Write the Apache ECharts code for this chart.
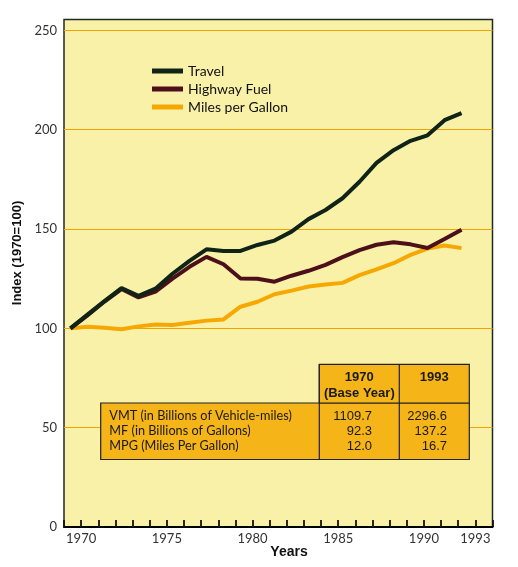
<!DOCTYPE html>
<html>
<head>
<meta charset="utf-8">
<script src="https://cdn.jsdelivr.net/npm/echarts@6/dist/echarts.min.js"></script>
<style>
  html, body { margin: 0; padding: 0; background: #fff; }
  #chart { width: 518px; height: 567px; }
</style>
</head>
<body>
<div id="chart"></div>
<script>
var years = [1970, 1971, 1972, 1973, 1974, 1975, 1976, 1977, 1978, 1979, 1980, 1981,
             1982, 1983, 1984, 1985, 1986, 1987, 1988, 1989, 1990, 1991, 1992, 1993];
var travel = [100, 106.9, 113.7, 120.3, 116.4, 120, 127.5, 134, 139.8, 139, 139, 142,
              144.2, 148.7, 155, 159.6, 165.5, 173.8, 183.3, 189.7, 194.4, 197.2, 204.8, 208.4];
var fuel = [100, 106.5, 113.5, 119.8, 115.6, 118.5, 125, 131, 136, 132.3, 125.1, 125,
            123.5, 126.5, 129, 132, 135.9, 139.4, 142.1, 143.4, 142.3, 140.5, 145, 149.7];
var mpg = [100, 100.8, 100.3, 99.6, 101, 102, 101.7, 102.8, 103.9, 104.5, 110.9, 113.4,
           117.2, 119, 121.1, 122.1, 122.9, 126.8, 129.7, 132.8, 137, 140.2, 141.7, 140.4];
// tick axis runs one year past each end, ticks at the edges sit on the border
var tickYears = ['1969'].concat(years.map(String), ['1994']);
var yearLabels = ['1970', '1975', '1980', '1985', '1990', '1993'];
var gridValues = [50, 100, 150, 200, 250];

var tableHeads = [['1970', '(Base Year)'], ['1993']];
var tableRows = ['VMT (in Billions of Vehicle-miles)', 'MF (in Billions of Gallons)', 'MPG (Miles Per Gallon)'];
var base1970 = ['1109.7', '92.3', '12.0'];
var year1993 = ['2296.6', '137.2', '16.7'];

function pairs(vals) {
  var out = [];
  for (var i = 0; i < years.length; i++) out.push([years[i], vals[i]]);
  return out;
}

var orange = '#f5b417';
var ink = '#1a1a1a';

// table drawn as graphic, rows spaced 15px
var tableEls = [
  { type: 'rect', shape: { x: 100.7, y: 403, width: 368.6, height: 56.5 },
    style: { fill: orange, stroke: '#222', lineWidth: 1.2 }, z: 10 },
  { type: 'rect', shape: { x: 319.3, y: 364.3, width: 150, height: 38.7 },
    style: { fill: orange, stroke: '#222', lineWidth: 1.2 }, z: 10 },
  { type: 'line', shape: { x1: 319.3, y1: 364.3, x2: 319.3, y2: 459.5 },
    style: { stroke: '#222', lineWidth: 1.2 }, z: 11 },
  { type: 'line', shape: { x1: 399.3, y1: 364.3, x2: 399.3, y2: 459.5 },
    style: { stroke: '#222', lineWidth: 1.2 }, z: 11 }
];
var headX = [359.3, 434.3];
tableHeads.forEach(function (lines, c) {
  lines.forEach(function (t, k) {
    tableEls.push({ type: 'text', x: headX[c], y: 377.5 + k * 15.5, z: 12,
      style: { text: t, fill: ink, font: 'bold 13px "Liberation Sans"', align: 'center', verticalAlign: 'middle' } });
  });
});
tableRows.forEach(function (t, r) {
  var y = 416 + r * 15;
  tableEls.push({ type: 'text', x: 109.3, y: y, z: 12,
    style: { text: t, fill: ink, font: '12.7px Lato', align: 'left', verticalAlign: 'middle' } });
  tableEls.push({ type: 'text', x: 372, y: y, z: 12,
    style: { text: base1970[r], fill: ink, font: '13px "Liberation Sans"', align: 'right', verticalAlign: 'middle' } });
  tableEls.push({ type: 'text', x: 447, y: y, z: 12,
    style: { text: year1993[r], fill: ink, font: '13px "Liberation Sans"', align: 'right', verticalAlign: 'middle' } });
});

var myChart = echarts.init(document.getElementById('chart'));
var options = {
  animation: false,
  textStyle: { fontFamily: 'Lato' },
  legend: {
    data: ['Travel', 'Highway Fuel', 'Miles per Gallon'],
    orient: 'vertical',
    left: 147,
    top: 59,
    icon: 'rect',
    itemWidth: 31,
    itemHeight: 5,
    itemGap: 4,
    textStyle: { fontSize: 14, color: '#111', fontFamily: 'Lato' }
  },
  grid: {
    left: 64, top: 19.5, width: 428.5, height: 507.5, show: true,
    backgroundColor: '#faf1a8', borderColor: '#1f2b1f', borderWidth: 1.5
  },
  xAxis: [
    { type: 'value', min: 1969.62, max: 1994.82,
      axisLine: { show: true, onZero: false, lineStyle: { color: '#000', width: 2 } },
      axisTick: { show: false }, axisLabel: { show: false }, splitLine: { show: false } },
    { type: 'category', data: tickYears, boundaryGap: false, position: 'bottom',
      zlevel: 1, z: 10,
      axisLine: { show: false, onZero: false },
      axisTick: { show: true, inside: true, length: 7, interval: 0,
        lineStyle: { color: '#111', width: 1.8 } },
      axisLabel: { interval: function (i, v) { return yearLabels.indexOf(v) >= 0; },
        margin: 5, fontSize: 13, color: '#333', fontFamily: 'Lato' },
      splitLine: { show: false } }
  ],
  yAxis: {
    type: 'value', min: 0, max: 255.5, interval: 50,
    axisLine: { show: false }, axisTick: { show: false }, splitLine: { show: false },
    axisLabel: { margin: 7, fontSize: 13, color: '#333', fontFamily: 'Lato',
      formatter: function (v) { return v % 50 === 0 ? String(v) : ''; } }
  },
  graphic: [
    { type: 'text', x: 17, y: 253, rotation: Math.PI / 2, z: 12,
      style: { text: 'Index (1970=100)', fill: '#111', font: 'bold 13px "Liberation Sans"',
        align: 'center', verticalAlign: 'middle' } },
    { type: 'text', x: 289, y: 552, z: 12,
      style: { text: 'Years', fill: '#111', font: 'bold 14px "Liberation Sans"',
        align: 'center', verticalAlign: 'middle' } }
  ].concat(tableEls),
  series: [
    { name: 'Miles per Gallon', type: 'line', xAxisIndex: 0, yAxisIndex: 0,
      data: pairs(mpg), symbol: 'none', color: '#f7a800',
      lineStyle: { width: 4, color: '#f7a800' },
      markLine: { silent: true, symbol: 'none', label: { show: false }, z: 1,
        lineStyle: { color: '#f0a400', width: 1.2, type: 'solid' },
        data: gridValues.map(function (v) { return { yAxis: v }; }) } },
    { name: 'Highway Fuel', type: 'line', xAxisIndex: 0, yAxisIndex: 0,
      data: pairs(fuel), symbol: 'none', color: '#4d0f1a',
      lineStyle: { width: 4, color: '#4d0f1a' } },
    { name: 'Travel', type: 'line', xAxisIndex: 0, yAxisIndex: 0,
      data: pairs(travel), symbol: 'none', color: '#0f2416',
      lineStyle: { width: 4, color: '#0f2416' } }
  ]
};
myChart.setOption(options);
window.onresize = myChart.resize;
</script>
</body>
</html>
